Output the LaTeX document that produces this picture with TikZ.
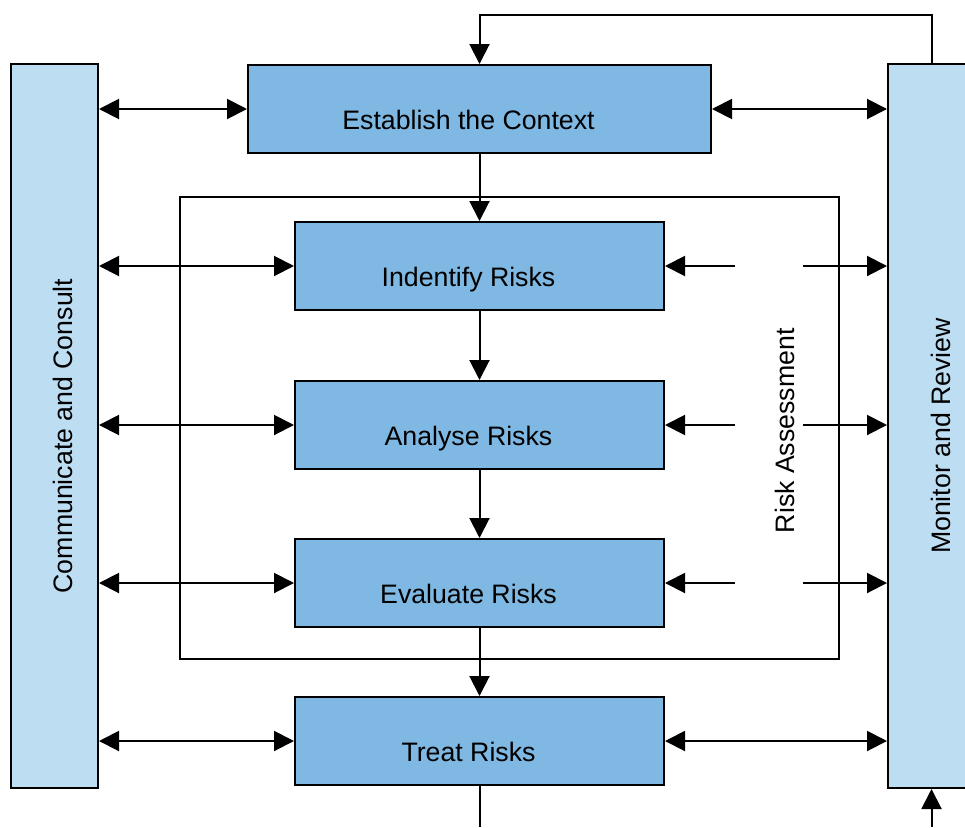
\documentclass[tikz,border=0pt]{standalone}
\usepackage{fontspec}
\setmainfont{Liberation Sans}
\usetikzlibrary{arrows.meta}
\definecolor{sidefill}{HTML}{BDDDF2}
\definecolor{stepfill}{HTML}{7FB8E3}
\begin{document}
\begin{tikzpicture}[x=1pt,y=-1pt,
  box/.style={draw=black, line width=2pt, inner sep=0pt, anchor=north west},
  sidebox/.style={box, fill=sidefill, minimum width=87pt, minimum height=724pt},
  stepbox/.style={box, fill=stepfill, minimum width=369pt, minimum height=88pt},
  framebox/.style={box, line width=1.6pt},
  lbl/.style={font=\fontsize{26.7}{30}\selectfont, inner sep=0pt, text height=0.72em, text depth=0pt},
  steplbl/.style={lbl, xshift=-11pt, yshift=-16.5pt},
  tip/.tip={Triangle[length=20pt,width=20pt]},
  oneway/.style={line width=2pt, -tip},
  twoway/.style={line width=2pt, tip-tip},
  plain/.style={line width=2pt}]

% page area
\fill[white] (0,0) rectangle (965,827);
\clip (0,0) rectangle (965,827);

% side columns
\node[sidebox] (cc) at (10,63) {};
\node[sidebox] (mr) at (887,63) {};
\node[lbl, rotate=90] at ([xshift=14.5pt, yshift=-10pt]cc.center) {Communicate and Consult};
\node[lbl, rotate=90] at ([xshift=15pt, yshift=-10pt]mr.center) {Monitor and Review};

% risk assessment frame
\node[framebox, minimum width=659pt, minimum height=462pt] (ra) at (179,196) {};
\node[lbl, rotate=90] at ([xshift=-49pt, yshift=-3pt]ra.east) {Risk Assessment};

% process steps
\node[box, fill=stepfill, minimum width=463pt, minimum height=88pt] (ec) at (247,64) {};
\node[stepbox] (ir) at (294,221) {};
\node[stepbox] (ar) at (294,380) {};
\node[stepbox] (er) at (294,538) {};
\node[stepbox] (tr) at (294,696) {};
\node[steplbl] at (ec.center) {Establish the Context};
\node[steplbl] at (ir.center) {Indentify Risks};
\node[steplbl] at (ar.center) {Analyse Risks};
\node[steplbl] at (er.center) {Evaluate Risks};
\node[steplbl] at (tr.center) {Treat Risks};

% main flow
\draw[oneway] (ec.south) -- (ir.north);
\draw[oneway] (ir.south) -- (ar.north);
\draw[oneway] (ar.south) -- (er.north);
\draw[oneway] (er.south) -- (tr.north);

% feedback loop over the top
\coordinate (looptop) at (ec.north |- 0,15);
\draw[oneway] (mr.north) |- (looptop) -- (ec.north);

% leads off the bottom edge
\coordinate (trout) at (tr.south |- 0,827);
\coordinate (mrin) at (mr.south |- 0,827);
\draw[plain] (tr.south) -- (trout);
\draw[oneway] (mrin) -- (mr.south);

% communicate and consult links
\draw[twoway] (cc.east |- ec.west) -- (ec.west);
\draw[twoway] (cc.east |- ir.west) -- (ir.west);
\draw[twoway] (cc.east |- ar.west) -- (ar.west);
\draw[twoway] (cc.east |- er.west) -- (er.west);
\draw[twoway] (cc.east |- tr.west) -- (tr.west);

% monitor and review links
\draw[twoway] (ec.east) -- (mr.west |- ec.east);
\draw[twoway] (tr.east) -- (mr.west |- tr.east);
\foreach \s in {ir,ar,er}{
  \coordinate (\s-in) at ([xshift=70pt]\s.east);
  \coordinate (\s-out) at ([xshift=138pt]\s.east);
  \draw[oneway] (\s-in) -- (\s.east);
  \draw[oneway] (\s-out) -- (mr.west |- \s.east);
}
\end{tikzpicture}
\end{document}
